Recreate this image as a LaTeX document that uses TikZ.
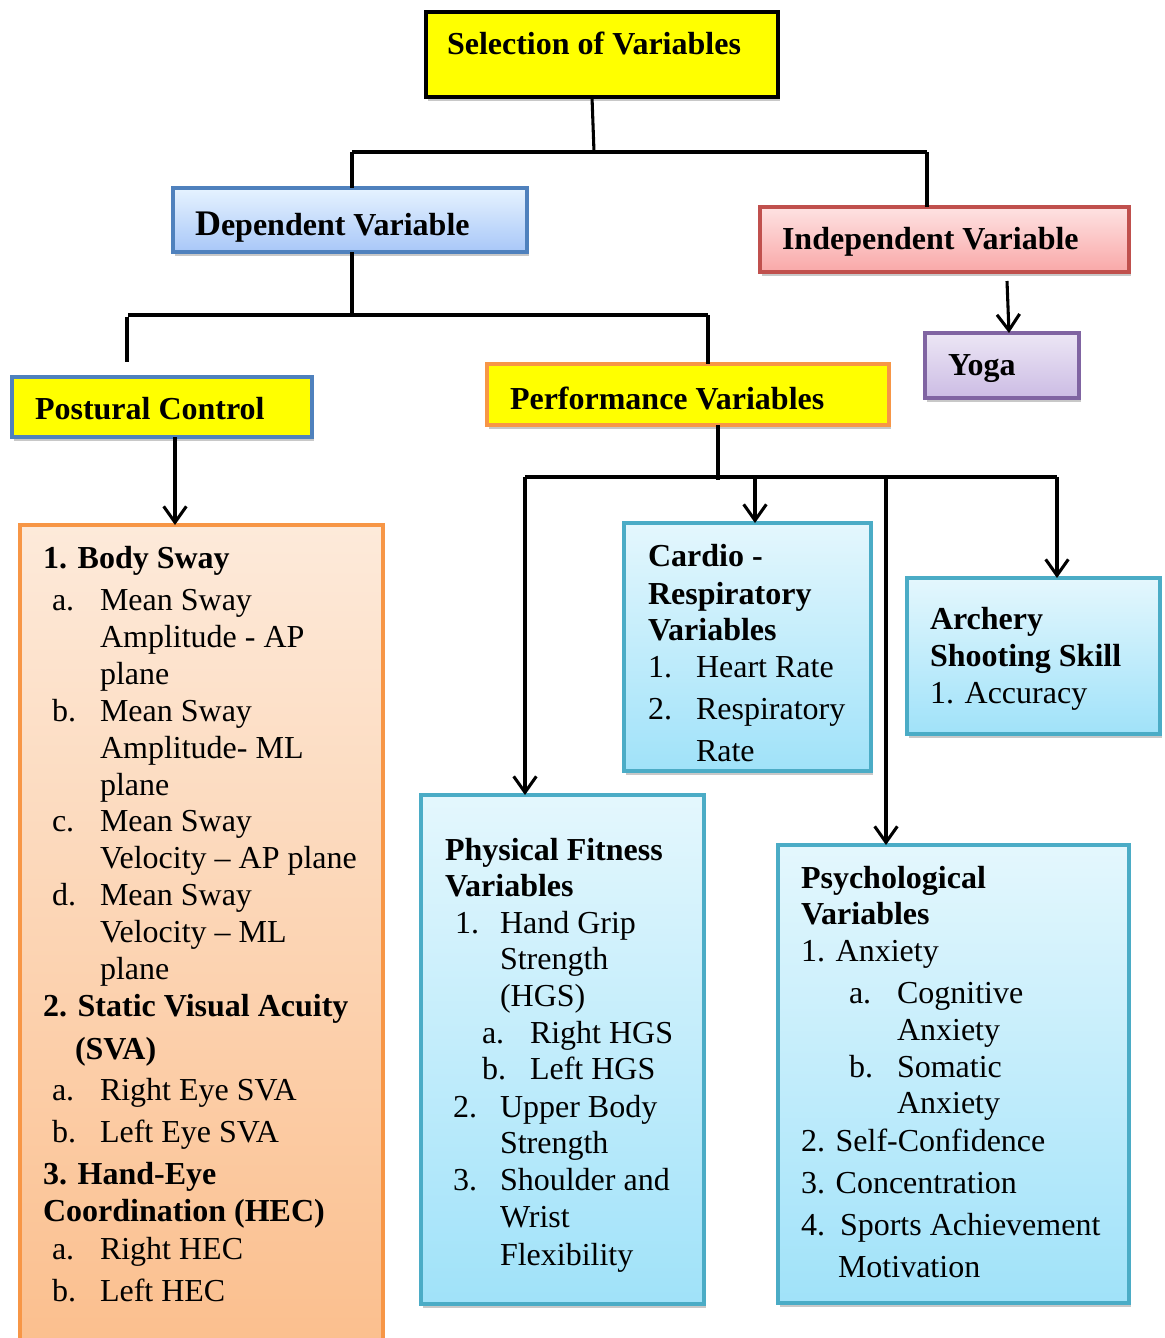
\documentclass[tikz,border=0pt]{standalone}
\usepackage{fontspec}
\setmainfont{Liberation Serif}
\usetikzlibrary{arrows.meta,shadows}

% colours
\definecolor{hiyellow}{HTML}{FFFF00}
\definecolor{accblue}{HTML}{4F81BD}
\definecolor{accred}{HTML}{C0504D}
\definecolor{accpurple}{HTML}{8064A2}
\definecolor{accorange}{HTML}{F79646}
\definecolor{accteal}{HTML}{4BACC6}

% box with top-left corner, width and height in px
\newcommand{\boxnode}[6]{%
  \node[#6, anchor=north west, minimum width=#4*0.75pt, minimum height=#5*0.75pt] (#1) at (#2,#3) {};}
% one line of text, baseline at the given point
\newcommand{\putline}[4]{\node[txt,#1] (#2) at (#3) {#4};}

\begin{document}
\begin{tikzpicture}[x=0.75pt,y=-0.75pt,
  box/.style={rectangle, inner sep=0pt, outer sep=0pt, line width=2.4pt,
    drop shadow={shadow xshift=1.5pt, shadow yshift=-3pt, opacity=0.3, fill=black!70}},
  yellowbox/.style={box, fill=hiyellow},
  bluegrad/.style={box, draw=accblue, top color=blue!5!white!95!cyan, bottom color={rgb,255:red,168;green,199;blue,248}},
  redgrad/.style={box, draw=accred, top color={rgb,255:red,254;green,226;blue,226}, bottom color={rgb,255:red,249;green,168;blue,168}},
  purplegrad/.style={box, draw=accpurple, top color={rgb,255:red,236;green,230;blue,245}, bottom color={rgb,255:red,204;green,188;blue,228}},
  orangegrad/.style={box, draw=accorange, top color={rgb,255:red,253;green,234;blue,218}, bottom color={rgb,255:red,251;green,190;blue,140}},
  tealgrad/.style={box, draw=accteal, line width=2.6pt, top color={rgb,255:red,228;green,247;blue,253}, bottom color={rgb,255:red,160;green,226;blue,249}},
  txt/.style={anchor=base west, inner sep=0pt, outer sep=0pt, font=\fontsize{24pt}{28pt}\selectfont},
  b/.style={font=\fontsize{24pt}{28pt}\selectfont\bfseries},
  conn/.style={line width=2.3pt, draw=black},
  bar/.style={line width=3.2pt, draw=black},
  arr/.style={conn, -{Straight Barb[length=12pt, width=17pt]}}
]
\clip (0,0) rectangle (1164,1338);
\fill[white] (0,0) rectangle (1164,1338);

% ---------- boxes ----------
\boxnode{sel}{426}{12}{352}{85}{yellowbox, draw=black, line width=3.4pt}
\boxnode{dep}{173}{188}{354}{64}{bluegrad}
\boxnode{ind}{760}{207}{369}{65}{redgrad}
\boxnode{yoga}{925}{333}{154}{65}{purplegrad}
\boxnode{post}{12}{377}{300}{60}{yellowbox, draw=accblue}
\boxnode{perf}{487}{364}{402}{61}{yellowbox, draw=accorange}
\boxnode{body}{20}{525}{363}{840}{orangegrad}
\boxnode{cardio}{624}{523}{247}{248}{tealgrad}
\boxnode{arch}{907}{578}{253}{156}{tealgrad}
\boxnode{phys}{421}{795}{283}{509}{tealgrad}
\boxnode{psych}{778}{845}{351}{458}{tealgrad}

% ---------- titles ----------
\putline{b}{t-sel}{447,55}{Selection of Variables}
\putline{b}{t-dep}{195,235}{{\fontsize{27pt}{28pt}\selectfont D}ependent Variable}
\putline{b}{t-ind}{782,249}{Independent Variable}
\putline{b}{t-yoga}{948,375}{Yoga}
\putline{b}{t-post}{35,419}{Postural Control}
\putline{b}{t-perf}{510,409}{Performance Variables}

% ---------- postural control items ----------
\putline{b}{bs1}{43,568}{1. Body Sway}
\putline{}{bs2l}{52,610}{a.}
\putline{}{bs2}{100,610}{Mean Sway}
\putline{}{bs3}{100,647}{Amplitude - AP}
\putline{}{bs4}{100,684}{plane}
\putline{}{bs5l}{52,721}{b.}
\putline{}{bs5}{100,721}{Mean Sway}
\putline{}{bs6}{100,758}{Amplitude- ML}
\putline{}{bs7}{100,795}{plane}
\putline{}{bs8l}{52,831}{c.}
\putline{}{bs8}{100,831}{Mean Sway}
\putline{}{bs9}{100,868}{Velocity -- AP plane}
\putline{}{bs10l}{52,905}{d.}
\putline{}{bs10}{100,905}{Mean Sway}
\putline{}{bs11}{100,942}{Velocity -- ML}
\putline{}{bs12}{100,979}{plane}
\putline{b}{bs13}{43,1016}{2. Static Visual Acuity}
\putline{b}{bs14}{75,1059}{(SVA)}
\putline{}{bs15l}{52,1100}{a.}
\putline{}{bs15}{100,1100}{Right Eye SVA}
\putline{}{bs16l}{52,1142}{b.}
\putline{}{bs16}{100,1142}{Left Eye SVA}
\putline{b}{bs17}{43,1184}{3. Hand-Eye}
\putline{b}{bs18}{43,1221}{Coordination (HEC)}
\putline{}{bs19l}{52,1259}{a.}
\putline{}{bs19}{100,1259}{Right HEC}
\putline{}{bs20l}{52,1301}{b.}
\putline{}{bs20}{100,1301}{Left HEC}

% ---------- cardio-respiratory ----------
\putline{b}{cr1}{648,566}{Cardio -}
\putline{b}{cr2}{648,604}{Respiratory}
\putline{b}{cr3}{648,640}{Variables}
\putline{}{cr4l}{648,677}{1.}
\putline{}{cr4}{696,677}{Heart Rate}
\putline{}{cr5l}{648,719}{2.}
\putline{}{cr5}{696,719}{Respiratory}
\putline{}{cr6}{696,761}{Rate}

% ---------- archery ----------
\putline{b}{ar1}{930,629}{Archery}
\putline{b}{ar2}{930,666}{Shooting Skill}
\putline{}{ar3}{930,703}{1. Accuracy}

% ---------- physical fitness ----------
\putline{b}{pf1}{445,860}{Physical Fitness}
\putline{b}{pf2}{445,896}{Variables}
\putline{}{pf3l}{455,933}{1.}
\putline{}{pf3}{500,933}{Hand Grip}
\putline{}{pf4}{500,969}{Strength}
\putline{}{pf5}{500,1006}{(HGS)}
\putline{}{pf6l}{482,1043}{a.}
\putline{}{pf6}{530,1043}{Right HGS}
\putline{}{pf7l}{482,1079}{b.}
\putline{}{pf7}{530,1079}{Left HGS}
\putline{}{pf8l}{453,1117}{2.}
\putline{}{pf8}{500,1117}{Upper Body}
\putline{}{pf9}{500,1153}{Strength}
\putline{}{pf10l}{453,1190}{3.}
\putline{}{pf10}{500,1190}{Shoulder and}
\putline{}{pf11}{500,1227}{Wrist}
\putline{}{pf12}{500,1265}{Flexibility}

% ---------- psychological ----------
\putline{b}{ps1}{801,888}{Psychological}
\putline{b}{ps2}{801,924}{Variables}
\putline{}{ps3}{801,961}{1. Anxiety}
\putline{}{ps4l}{849,1003}{a.}
\putline{}{ps4}{897,1003}{Cognitive}
\putline{}{ps5}{897,1040}{Anxiety}
\putline{}{ps6l}{849,1077}{b.}
\putline{}{ps6}{897,1077}{Somatic}
\putline{}{ps7}{897,1113}{Anxiety}
\putline{}{ps8}{801,1151}{2. Self-Confidence}
\putline{}{ps9}{801,1193}{3. Concentration}
\putline{}{ps10l}{801,1235}{4.}
\putline{}{ps10}{840,1235}{Sports Achievement}
\putline{}{ps11}{838,1277}{Motivation}

% ---------- connectors ----------
% top level split
\coordinate (j1) at (594,152);
\coordinate (j1l) at (352,152);
\coordinate (j1r) at (927,152);
\draw[conn] (592,0 |- sel.south) -- (j1);
\draw[bar] (j1l) -- (j1r);
\draw[conn] (j1l) -- (352,0 |- dep.north);
\draw[conn] (j1r) -- (927,0 |- ind.north);

% dependent split
\coordinate (j2) at (352,315);
\coordinate (j2l) at (128,315);
\coordinate (j2r) at (708,315);
\coordinate (j2lend) at (127,362);
\draw[conn] (352,0 |- dep.south) -- (j2);
\draw[bar] (j2l) -- (j2r);
\draw[conn] (127,317) -- (j2lend);
\draw[conn] (j2r) -- (708,0 |- perf.north);

% independent to yoga
\coordinate (iy) at (1007,281);
\draw[arr] (iy) -- (1009,0 |- yoga.north);

% postural control to its items
\draw[arr] (175,0 |- post.south) -- (175,0 |- body.north);

% performance split
\coordinate (j3) at (718,480);
\coordinate (j3a) at (525,477);
\coordinate (j3b) at (755,477);
\coordinate (j3c) at (886,477);
\coordinate (j3d) at (1057,477);
\draw[conn] (718,0 |- perf.south) -- (j3);
\draw[bar] (j3a) -- (j3d);
\draw[arr] (j3a) -- (525,0 |- phys.north);
\draw[arr] (j3b) -- (755,0 |- cardio.north);
\draw[arr] (j3c) -- (886,0 |- psych.north);
\draw[arr] (j3d) -- (1057,0 |- arch.north);
\end{tikzpicture}
\end{document}
